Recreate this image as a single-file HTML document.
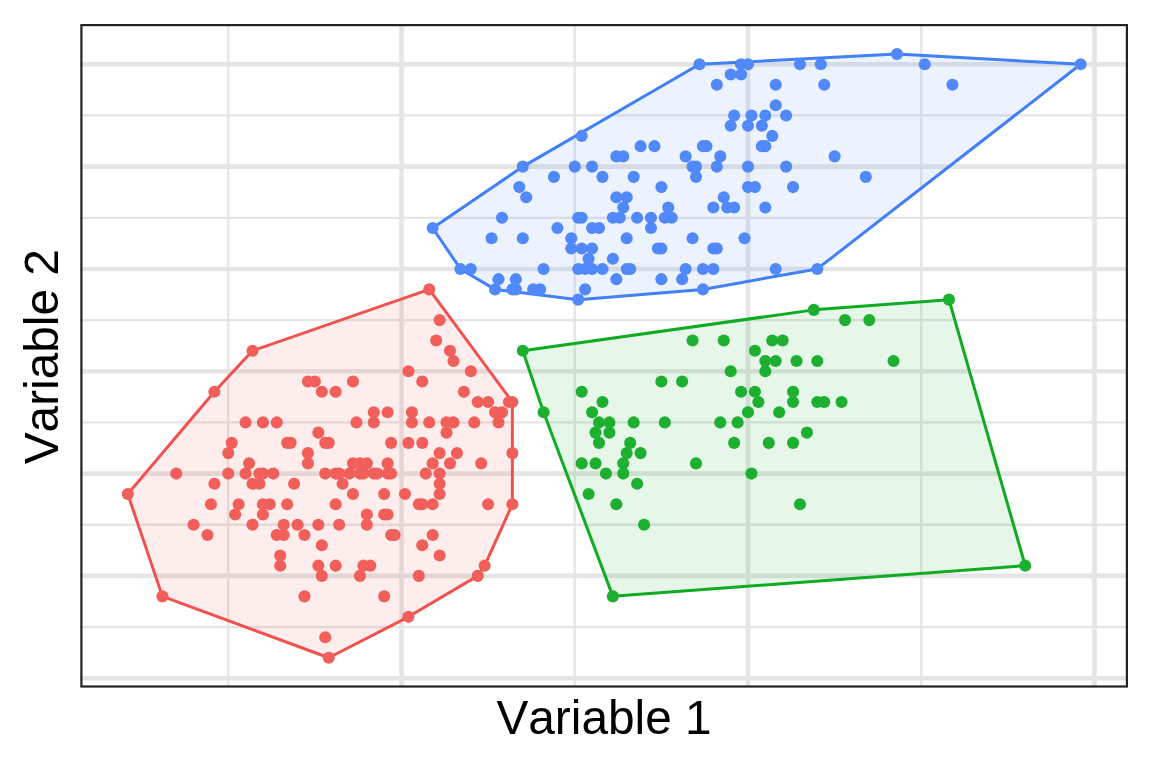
<!DOCTYPE html>
<html lang="en"><head><meta charset="utf-8"><title>Cluster plot</title>
<style>html,body{margin:0;padding:0;background:#fff}body{width:1152px;height:768px;overflow:hidden}svg{display:block}text{font-family:"Liberation Sans",Arial,Helvetica,sans-serif;fill:#000;font-kerning:none}</style></head><body>
<svg width="1152" height="768" viewBox="0 0 1152 768">
<rect width="1152" height="768" fill="#fff"/>
<clipPath id="pc"><rect x="80.30" y="24.00" width="1047.70" height="663.60"/></clipPath>
<g clip-path="url(#pc)">
<g stroke="#E5E5E5" stroke-width="2.3">
<line x1="228.25" x2="228.25" y1="24.00" y2="687.60"/>
<line x1="574.75" x2="574.75" y1="24.00" y2="687.60"/>
<line x1="921.25" x2="921.25" y1="24.00" y2="687.60"/>
<line y1="627.06" y2="627.06" x1="80.30" x2="1128.00"/>
<line y1="524.74" y2="524.74" x1="80.30" x2="1128.00"/>
<line y1="422.42" y2="422.42" x1="80.30" x2="1128.00"/>
<line y1="320.10" y2="320.10" x1="80.30" x2="1128.00"/>
<line y1="217.78" y2="217.78" x1="80.30" x2="1128.00"/>
<line y1="115.46" y2="115.46" x1="80.30" x2="1128.00"/>
</g><g stroke="#E5E5E5" stroke-width="4.6">
<line x1="401.50" x2="401.50" y1="24.00" y2="687.60"/>
<line x1="748.00" x2="748.00" y1="24.00" y2="687.60"/>
<line x1="1094.50" x2="1094.50" y1="24.00" y2="687.60"/>
<line y1="678.22" y2="678.22" x1="80.30" x2="1128.00"/>
<line y1="575.90" y2="575.90" x1="80.30" x2="1128.00"/>
<line y1="473.58" y2="473.58" x1="80.30" x2="1128.00"/>
<line y1="371.26" y2="371.26" x1="80.30" x2="1128.00"/>
<line y1="268.94" y2="268.94" x1="80.30" x2="1128.00"/>
<line y1="166.62" y2="166.62" x1="80.30" x2="1128.00"/>
<line y1="64.30" y2="64.30" x1="80.30" x2="1128.00"/>
</g>
<polygon points="127.77,494.04 162.42,596.36 328.73,657.76 408.43,616.83 477.73,575.90 484.66,565.67 512.38,504.28 512.38,401.96 429.22,289.40 252.51,350.80 214.39,391.72" fill="#F0534F" fill-opacity="0.1" stroke="none"/>
<polygon points="127.77,494.04 162.42,596.36 328.73,657.76 408.43,616.83 477.73,575.90 484.66,565.67 512.38,504.28 512.38,401.96 429.22,289.40 252.51,350.80 214.39,391.72" fill="none" stroke="#F0534F" stroke-width="3.0" stroke-linejoin="round"/>
<polygon points="522.77,350.80 543.57,412.19 612.87,596.36 1025.20,565.67 948.97,299.64 813.83,309.87" fill="#0EAB23" fill-opacity="0.1" stroke="none"/>
<polygon points="522.77,350.80 543.57,412.19 612.87,596.36 1025.20,565.67 948.97,299.64 813.83,309.87" fill="none" stroke="#0EAB23" stroke-width="3.0" stroke-linejoin="round"/>
<polygon points="432.68,228.01 460.41,268.94 495.06,289.40 578.22,299.64 702.96,289.40 817.30,268.94 1080.64,64.30 896.99,54.07 699.49,64.30 522.77,166.62" fill="#4280FA" fill-opacity="0.1" stroke="none"/>
<polygon points="432.68,228.01 460.41,268.94 495.06,289.40 578.22,299.64 702.96,289.40 817.30,268.94 1080.64,64.30 896.99,54.07 699.49,64.30 522.77,166.62" fill="none" stroke="#4280FA" stroke-width="3.0" stroke-linejoin="round"/>
<g fill="#F15F5B">
<circle cx="429.22" cy="289.40" r="6.05"/>
<circle cx="439.62" cy="320.10" r="6.05"/>
<circle cx="436.15" cy="340.56" r="6.05"/>
<circle cx="252.51" cy="350.80" r="6.05"/>
<circle cx="450.01" cy="350.80" r="6.05"/>
<circle cx="453.48" cy="361.03" r="6.05"/>
<circle cx="408.43" cy="371.26" r="6.05"/>
<circle cx="470.80" cy="371.26" r="6.05"/>
<circle cx="307.94" cy="381.49" r="6.05"/>
<circle cx="314.88" cy="381.49" r="6.05"/>
<circle cx="352.99" cy="381.49" r="6.05"/>
<circle cx="422.29" cy="381.49" r="6.05"/>
<circle cx="214.39" cy="391.72" r="6.05"/>
<circle cx="321.81" cy="391.72" r="6.05"/>
<circle cx="335.67" cy="391.72" r="6.05"/>
<circle cx="463.87" cy="391.72" r="6.05"/>
<circle cx="477.73" cy="401.96" r="6.05"/>
<circle cx="488.12" cy="401.96" r="6.05"/>
<circle cx="508.92" cy="401.96" r="6.05"/>
<circle cx="512.38" cy="401.96" r="6.05"/>
<circle cx="373.78" cy="412.19" r="6.05"/>
<circle cx="387.64" cy="412.19" r="6.05"/>
<circle cx="411.89" cy="412.19" r="6.05"/>
<circle cx="495.06" cy="412.19" r="6.05"/>
<circle cx="501.98" cy="412.19" r="6.05"/>
<circle cx="245.58" cy="422.42" r="6.05"/>
<circle cx="262.90" cy="422.42" r="6.05"/>
<circle cx="276.76" cy="422.42" r="6.05"/>
<circle cx="356.46" cy="422.42" r="6.05"/>
<circle cx="373.78" cy="422.42" r="6.05"/>
<circle cx="411.89" cy="422.42" r="6.05"/>
<circle cx="429.22" cy="422.42" r="6.05"/>
<circle cx="446.54" cy="422.42" r="6.05"/>
<circle cx="453.48" cy="422.42" r="6.05"/>
<circle cx="474.27" cy="422.42" r="6.05"/>
<circle cx="498.52" cy="422.42" r="6.05"/>
<circle cx="318.34" cy="432.65" r="6.05"/>
<circle cx="446.54" cy="432.65" r="6.05"/>
<circle cx="231.72" cy="442.88" r="6.05"/>
<circle cx="287.16" cy="442.88" r="6.05"/>
<circle cx="290.62" cy="442.88" r="6.05"/>
<circle cx="325.27" cy="442.88" r="6.05"/>
<circle cx="328.73" cy="442.88" r="6.05"/>
<circle cx="391.11" cy="442.88" r="6.05"/>
<circle cx="408.43" cy="442.88" r="6.05"/>
<circle cx="422.29" cy="442.88" r="6.05"/>
<circle cx="228.25" cy="453.12" r="6.05"/>
<circle cx="307.94" cy="453.12" r="6.05"/>
<circle cx="439.62" cy="453.12" r="6.05"/>
<circle cx="456.94" cy="453.12" r="6.05"/>
<circle cx="512.38" cy="453.12" r="6.05"/>
<circle cx="249.04" cy="463.35" r="6.05"/>
<circle cx="307.94" cy="463.35" r="6.05"/>
<circle cx="352.99" cy="463.35" r="6.05"/>
<circle cx="359.92" cy="463.35" r="6.05"/>
<circle cx="366.85" cy="463.35" r="6.05"/>
<circle cx="387.64" cy="463.35" r="6.05"/>
<circle cx="432.68" cy="463.35" r="6.05"/>
<circle cx="450.01" cy="463.35" r="6.05"/>
<circle cx="481.19" cy="463.35" r="6.05"/>
<circle cx="176.28" cy="473.58" r="6.05"/>
<circle cx="228.25" cy="473.58" r="6.05"/>
<circle cx="245.58" cy="473.58" r="6.05"/>
<circle cx="259.43" cy="473.58" r="6.05"/>
<circle cx="262.90" cy="473.58" r="6.05"/>
<circle cx="273.29" cy="473.58" r="6.05"/>
<circle cx="325.27" cy="473.58" r="6.05"/>
<circle cx="335.67" cy="473.58" r="6.05"/>
<circle cx="339.13" cy="473.58" r="6.05"/>
<circle cx="349.52" cy="473.58" r="6.05"/>
<circle cx="359.92" cy="473.58" r="6.05"/>
<circle cx="363.38" cy="473.58" r="6.05"/>
<circle cx="373.78" cy="473.58" r="6.05"/>
<circle cx="377.24" cy="473.58" r="6.05"/>
<circle cx="387.64" cy="473.58" r="6.05"/>
<circle cx="391.11" cy="473.58" r="6.05"/>
<circle cx="425.76" cy="473.58" r="6.05"/>
<circle cx="439.62" cy="473.58" r="6.05"/>
<circle cx="214.39" cy="483.81" r="6.05"/>
<circle cx="252.51" cy="483.81" r="6.05"/>
<circle cx="259.43" cy="483.81" r="6.05"/>
<circle cx="294.08" cy="483.81" r="6.05"/>
<circle cx="342.59" cy="483.81" r="6.05"/>
<circle cx="439.62" cy="483.81" r="6.05"/>
<circle cx="127.77" cy="494.04" r="6.05"/>
<circle cx="352.99" cy="494.04" r="6.05"/>
<circle cx="384.18" cy="494.04" r="6.05"/>
<circle cx="404.97" cy="494.04" r="6.05"/>
<circle cx="439.62" cy="494.04" r="6.05"/>
<circle cx="210.93" cy="504.28" r="6.05"/>
<circle cx="238.64" cy="504.28" r="6.05"/>
<circle cx="262.90" cy="504.28" r="6.05"/>
<circle cx="269.83" cy="504.28" r="6.05"/>
<circle cx="287.16" cy="504.28" r="6.05"/>
<circle cx="335.67" cy="504.28" r="6.05"/>
<circle cx="418.82" cy="504.28" r="6.05"/>
<circle cx="422.29" cy="504.28" r="6.05"/>
<circle cx="432.68" cy="504.28" r="6.05"/>
<circle cx="488.12" cy="504.28" r="6.05"/>
<circle cx="512.38" cy="504.28" r="6.05"/>
<circle cx="235.18" cy="514.51" r="6.05"/>
<circle cx="262.90" cy="514.51" r="6.05"/>
<circle cx="366.85" cy="514.51" r="6.05"/>
<circle cx="384.18" cy="514.51" r="6.05"/>
<circle cx="387.64" cy="514.51" r="6.05"/>
<circle cx="193.60" cy="524.74" r="6.05"/>
<circle cx="252.51" cy="524.74" r="6.05"/>
<circle cx="283.69" cy="524.74" r="6.05"/>
<circle cx="297.55" cy="524.74" r="6.05"/>
<circle cx="318.34" cy="524.74" r="6.05"/>
<circle cx="339.13" cy="524.74" r="6.05"/>
<circle cx="366.85" cy="524.74" r="6.05"/>
<circle cx="207.46" cy="534.97" r="6.05"/>
<circle cx="276.76" cy="534.97" r="6.05"/>
<circle cx="283.69" cy="534.97" r="6.05"/>
<circle cx="304.48" cy="534.97" r="6.05"/>
<circle cx="391.11" cy="534.97" r="6.05"/>
<circle cx="394.57" cy="534.97" r="6.05"/>
<circle cx="432.68" cy="534.97" r="6.05"/>
<circle cx="321.81" cy="545.20" r="6.05"/>
<circle cx="422.29" cy="545.20" r="6.05"/>
<circle cx="280.23" cy="555.44" r="6.05"/>
<circle cx="439.62" cy="555.44" r="6.05"/>
<circle cx="280.23" cy="565.67" r="6.05"/>
<circle cx="318.34" cy="565.67" r="6.05"/>
<circle cx="335.67" cy="565.67" r="6.05"/>
<circle cx="363.38" cy="565.67" r="6.05"/>
<circle cx="370.32" cy="565.67" r="6.05"/>
<circle cx="484.66" cy="565.67" r="6.05"/>
<circle cx="321.81" cy="575.90" r="6.05"/>
<circle cx="359.92" cy="575.90" r="6.05"/>
<circle cx="418.82" cy="575.90" r="6.05"/>
<circle cx="477.73" cy="575.90" r="6.05"/>
<circle cx="162.42" cy="596.36" r="6.05"/>
<circle cx="304.48" cy="596.36" r="6.05"/>
<circle cx="384.18" cy="596.36" r="6.05"/>
<circle cx="408.43" cy="616.83" r="6.05"/>
<circle cx="325.27" cy="637.29" r="6.05"/>
<circle cx="328.73" cy="657.76" r="6.05"/>
</g>
<g fill="#1DB030">
<circle cx="948.97" cy="299.64" r="6.05"/>
<circle cx="813.83" cy="309.87" r="6.05"/>
<circle cx="845.02" cy="320.10" r="6.05"/>
<circle cx="869.27" cy="320.10" r="6.05"/>
<circle cx="692.56" cy="340.56" r="6.05"/>
<circle cx="723.74" cy="340.56" r="6.05"/>
<circle cx="772.26" cy="340.56" r="6.05"/>
<circle cx="782.65" cy="340.56" r="6.05"/>
<circle cx="522.77" cy="350.80" r="6.05"/>
<circle cx="754.93" cy="350.80" r="6.05"/>
<circle cx="765.33" cy="361.03" r="6.05"/>
<circle cx="775.72" cy="361.03" r="6.05"/>
<circle cx="796.51" cy="361.03" r="6.05"/>
<circle cx="817.30" cy="361.03" r="6.05"/>
<circle cx="893.53" cy="361.03" r="6.05"/>
<circle cx="730.67" cy="371.26" r="6.05"/>
<circle cx="765.33" cy="371.26" r="6.05"/>
<circle cx="661.38" cy="381.49" r="6.05"/>
<circle cx="682.16" cy="381.49" r="6.05"/>
<circle cx="581.68" cy="391.72" r="6.05"/>
<circle cx="741.07" cy="391.72" r="6.05"/>
<circle cx="754.93" cy="391.72" r="6.05"/>
<circle cx="793.04" cy="391.72" r="6.05"/>
<circle cx="602.47" cy="401.96" r="6.05"/>
<circle cx="758.39" cy="401.96" r="6.05"/>
<circle cx="793.04" cy="401.96" r="6.05"/>
<circle cx="817.30" cy="401.96" r="6.05"/>
<circle cx="824.23" cy="401.96" r="6.05"/>
<circle cx="841.56" cy="401.96" r="6.05"/>
<circle cx="543.57" cy="412.19" r="6.05"/>
<circle cx="592.08" cy="412.19" r="6.05"/>
<circle cx="748.00" cy="412.19" r="6.05"/>
<circle cx="779.18" cy="412.19" r="6.05"/>
<circle cx="599.01" cy="422.42" r="6.05"/>
<circle cx="609.40" cy="422.42" r="6.05"/>
<circle cx="633.66" cy="422.42" r="6.05"/>
<circle cx="664.84" cy="422.42" r="6.05"/>
<circle cx="720.28" cy="422.42" r="6.05"/>
<circle cx="737.61" cy="422.42" r="6.05"/>
<circle cx="595.54" cy="432.65" r="6.05"/>
<circle cx="609.40" cy="432.65" r="6.05"/>
<circle cx="806.91" cy="432.65" r="6.05"/>
<circle cx="599.01" cy="442.88" r="6.05"/>
<circle cx="630.19" cy="442.88" r="6.05"/>
<circle cx="734.14" cy="442.88" r="6.05"/>
<circle cx="768.79" cy="442.88" r="6.05"/>
<circle cx="793.04" cy="442.88" r="6.05"/>
<circle cx="626.73" cy="453.12" r="6.05"/>
<circle cx="640.58" cy="453.12" r="6.05"/>
<circle cx="581.68" cy="463.35" r="6.05"/>
<circle cx="595.54" cy="463.35" r="6.05"/>
<circle cx="623.26" cy="463.35" r="6.05"/>
<circle cx="696.02" cy="463.35" r="6.05"/>
<circle cx="605.93" cy="473.58" r="6.05"/>
<circle cx="623.26" cy="473.58" r="6.05"/>
<circle cx="751.47" cy="473.58" r="6.05"/>
<circle cx="637.12" cy="483.81" r="6.05"/>
<circle cx="588.61" cy="494.04" r="6.05"/>
<circle cx="616.33" cy="504.28" r="6.05"/>
<circle cx="799.97" cy="504.28" r="6.05"/>
<circle cx="644.05" cy="524.74" r="6.05"/>
<circle cx="1025.20" cy="565.67" r="6.05"/>
<circle cx="612.87" cy="596.36" r="6.05"/>
</g>
<g fill="#5289FA">
<circle cx="896.99" cy="54.07" r="6.05"/>
<circle cx="699.49" cy="64.30" r="6.05"/>
<circle cx="741.07" cy="64.30" r="6.05"/>
<circle cx="748.00" cy="64.30" r="6.05"/>
<circle cx="799.97" cy="64.30" r="6.05"/>
<circle cx="820.77" cy="64.30" r="6.05"/>
<circle cx="924.72" cy="64.30" r="6.05"/>
<circle cx="1080.64" cy="64.30" r="6.05"/>
<circle cx="730.67" cy="74.53" r="6.05"/>
<circle cx="741.07" cy="74.53" r="6.05"/>
<circle cx="716.82" cy="84.76" r="6.05"/>
<circle cx="775.72" cy="84.76" r="6.05"/>
<circle cx="824.23" cy="84.76" r="6.05"/>
<circle cx="952.43" cy="84.76" r="6.05"/>
<circle cx="775.72" cy="105.23" r="6.05"/>
<circle cx="734.14" cy="115.46" r="6.05"/>
<circle cx="751.47" cy="115.46" r="6.05"/>
<circle cx="765.33" cy="115.46" r="6.05"/>
<circle cx="786.12" cy="115.46" r="6.05"/>
<circle cx="730.67" cy="125.69" r="6.05"/>
<circle cx="748.00" cy="125.69" r="6.05"/>
<circle cx="761.86" cy="125.69" r="6.05"/>
<circle cx="581.68" cy="135.92" r="6.05"/>
<circle cx="772.26" cy="135.92" r="6.05"/>
<circle cx="640.58" cy="146.16" r="6.05"/>
<circle cx="654.44" cy="146.16" r="6.05"/>
<circle cx="702.96" cy="146.16" r="6.05"/>
<circle cx="706.42" cy="146.16" r="6.05"/>
<circle cx="761.86" cy="146.16" r="6.05"/>
<circle cx="765.33" cy="146.16" r="6.05"/>
<circle cx="616.33" cy="156.39" r="6.05"/>
<circle cx="623.26" cy="156.39" r="6.05"/>
<circle cx="685.63" cy="156.39" r="6.05"/>
<circle cx="720.28" cy="156.39" r="6.05"/>
<circle cx="834.62" cy="156.39" r="6.05"/>
<circle cx="522.77" cy="166.62" r="6.05"/>
<circle cx="574.75" cy="166.62" r="6.05"/>
<circle cx="592.08" cy="166.62" r="6.05"/>
<circle cx="692.56" cy="166.62" r="6.05"/>
<circle cx="696.02" cy="166.62" r="6.05"/>
<circle cx="716.82" cy="166.62" r="6.05"/>
<circle cx="748.00" cy="166.62" r="6.05"/>
<circle cx="786.12" cy="166.62" r="6.05"/>
<circle cx="553.96" cy="176.85" r="6.05"/>
<circle cx="602.47" cy="176.85" r="6.05"/>
<circle cx="633.66" cy="176.85" r="6.05"/>
<circle cx="696.02" cy="176.85" r="6.05"/>
<circle cx="865.81" cy="176.85" r="6.05"/>
<circle cx="519.31" cy="187.08" r="6.05"/>
<circle cx="661.38" cy="187.08" r="6.05"/>
<circle cx="748.00" cy="187.08" r="6.05"/>
<circle cx="754.93" cy="187.08" r="6.05"/>
<circle cx="793.04" cy="187.08" r="6.05"/>
<circle cx="526.24" cy="197.32" r="6.05"/>
<circle cx="616.33" cy="197.32" r="6.05"/>
<circle cx="626.73" cy="197.32" r="6.05"/>
<circle cx="723.74" cy="197.32" r="6.05"/>
<circle cx="623.26" cy="207.55" r="6.05"/>
<circle cx="668.31" cy="207.55" r="6.05"/>
<circle cx="713.35" cy="207.55" r="6.05"/>
<circle cx="727.21" cy="207.55" r="6.05"/>
<circle cx="734.14" cy="207.55" r="6.05"/>
<circle cx="765.33" cy="207.55" r="6.05"/>
<circle cx="501.98" cy="217.78" r="6.05"/>
<circle cx="578.22" cy="217.78" r="6.05"/>
<circle cx="581.68" cy="217.78" r="6.05"/>
<circle cx="612.87" cy="217.78" r="6.05"/>
<circle cx="619.79" cy="217.78" r="6.05"/>
<circle cx="637.12" cy="217.78" r="6.05"/>
<circle cx="650.98" cy="217.78" r="6.05"/>
<circle cx="664.84" cy="217.78" r="6.05"/>
<circle cx="671.77" cy="217.78" r="6.05"/>
<circle cx="432.68" cy="228.01" r="6.05"/>
<circle cx="557.42" cy="228.01" r="6.05"/>
<circle cx="592.08" cy="228.01" r="6.05"/>
<circle cx="599.01" cy="228.01" r="6.05"/>
<circle cx="650.98" cy="228.01" r="6.05"/>
<circle cx="491.59" cy="238.24" r="6.05"/>
<circle cx="522.77" cy="238.24" r="6.05"/>
<circle cx="571.28" cy="238.24" r="6.05"/>
<circle cx="626.73" cy="238.24" r="6.05"/>
<circle cx="692.56" cy="238.24" r="6.05"/>
<circle cx="744.53" cy="238.24" r="6.05"/>
<circle cx="571.28" cy="248.48" r="6.05"/>
<circle cx="581.68" cy="248.48" r="6.05"/>
<circle cx="592.08" cy="248.48" r="6.05"/>
<circle cx="657.91" cy="248.48" r="6.05"/>
<circle cx="661.38" cy="248.48" r="6.05"/>
<circle cx="713.35" cy="248.48" r="6.05"/>
<circle cx="716.82" cy="248.48" r="6.05"/>
<circle cx="588.61" cy="258.71" r="6.05"/>
<circle cx="612.87" cy="258.71" r="6.05"/>
<circle cx="460.41" cy="268.94" r="6.05"/>
<circle cx="470.80" cy="268.94" r="6.05"/>
<circle cx="543.57" cy="268.94" r="6.05"/>
<circle cx="578.22" cy="268.94" r="6.05"/>
<circle cx="585.14" cy="268.94" r="6.05"/>
<circle cx="592.08" cy="268.94" r="6.05"/>
<circle cx="602.47" cy="268.94" r="6.05"/>
<circle cx="626.73" cy="268.94" r="6.05"/>
<circle cx="630.19" cy="268.94" r="6.05"/>
<circle cx="685.63" cy="268.94" r="6.05"/>
<circle cx="702.96" cy="268.94" r="6.05"/>
<circle cx="713.35" cy="268.94" r="6.05"/>
<circle cx="775.72" cy="268.94" r="6.05"/>
<circle cx="817.30" cy="268.94" r="6.05"/>
<circle cx="498.52" cy="279.17" r="6.05"/>
<circle cx="515.84" cy="279.17" r="6.05"/>
<circle cx="616.33" cy="279.17" r="6.05"/>
<circle cx="661.38" cy="279.17" r="6.05"/>
<circle cx="682.16" cy="279.17" r="6.05"/>
<circle cx="495.06" cy="289.40" r="6.05"/>
<circle cx="512.38" cy="289.40" r="6.05"/>
<circle cx="515.84" cy="289.40" r="6.05"/>
<circle cx="533.17" cy="289.40" r="6.05"/>
<circle cx="540.10" cy="289.40" r="6.05"/>
<circle cx="585.14" cy="289.40" r="6.05"/>
<circle cx="702.96" cy="289.40" r="6.05"/>
<circle cx="578.22" cy="299.64" r="6.05"/>
</g>
</g>
<rect x="81.4" y="25.1" width="1045.50" height="661.40" fill="none" stroke="#222222" stroke-width="2.2"/>
<text x="496.4" y="733.7" font-size="47.8">Variable 1</text>
<text transform="translate(57.9,464.3) rotate(-90)" font-size="47.8">Variable 2</text>
</svg></body></html>
